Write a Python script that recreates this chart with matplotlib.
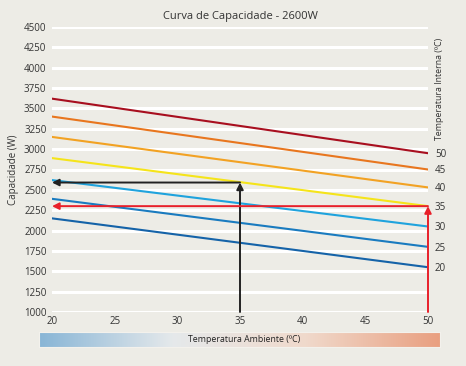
import numpy as np
import matplotlib
matplotlib.use("Agg")
import matplotlib.pyplot as plt
from matplotlib.colors import LinearSegmentedColormap

plt.rcParams['font.family'] = ['Open Sans', 'DejaVu Sans']

# ambient temperature (x) and capacity curves for each internal temperature
amb = [20, 50]
internal = [50, 45, 40, 35, 30, 25, 20]
curves = [
    [3620, 2950],
    [3400, 2750],
    [3150, 2530],
    [2890, 2300],
    [2620, 2050],
    [2390, 1800],
    [2150, 1550],
]
colors = ['#a80f1f', '#e8761e', '#f2a223', '#f5e41a', '#1fa3dd', '#1a7bbf', '#1563a8']

# example readings
black_x, black_y = 35, 2590
red_x, red_y = 50, 2300

bg = '#edece6'
txt = '#333333'

fig = plt.figure(figsize=(4.66, 3.66), dpi=100, facecolor=bg)
ax = fig.add_axes([52/466, 1-312/366, 376/466, 285/366])
ax.set_facecolor(bg)

ax.set_xlim(20, 50)
ax.set_ylim(1000, 4500)
yt = np.arange(1000, 4501, 250)
ax.set_yticks(yt)
ax.set_xticks([20, 25, 30, 35, 40, 45, 50])
for v in yt:
    ax.axhline(v, color='white', lw=2.2, zorder=1)
for s in ax.spines.values():
    s.set_visible(False)
ax.tick_params(length=0, labelsize=7, colors=txt, pad=3)
ax.tick_params(axis='y', pad=4)

for c, col in zip(curves, colors):
    ax.plot(amb, c, color=col, lw=1.5, zorder=3)

arrow = dict(arrowstyle='-|>', lw=1.4, mutation_scale=10, shrinkA=0, shrinkB=0)
# black reading
ax.annotate('', xy=(black_x, black_y), xytext=(black_x, 1000),
            arrowprops=dict(arrow, color='#222222'), zorder=4)
ax.annotate('', xy=(20, black_y), xytext=(black_x, black_y),
            arrowprops=dict(arrow, color='#222222'), zorder=4)
# red reading
ax.annotate('', xy=(red_x, red_y), xytext=(red_x, 1000),
            arrowprops=dict(arrow, color='#e8202a'), zorder=4)
ax.annotate('', xy=(20, red_y), xytext=(red_x, red_y),
            arrowprops=dict(arrow, color='#e8202a'), zorder=4)

ax.set_ylabel('Capacidade (W)', fontsize=7, color=txt)
ax.yaxis.set_label_coords(-0.088, 0.5)
ax.set_title('Curva de Capacidade - 2600W', fontsize=8, color=txt, pad=6)

ax2 = ax.twinx()
ax2.set_ylim(ax.get_ylim())
ax2.set_yticks([c[1] for c in curves])
ax2.set_yticklabels([str(t) for t in internal])
for s in ax2.spines.values():
    s.set_visible(False)
ax2.tick_params(length=0, labelsize=7, colors=txt, pad=5)
fig.text(439/466, 1-89/366, 'Temperatura Interna (ºC)', rotation=90,
         fontsize=6.3, color=txt, ha='center', va='center')

# ambient temperature gradient bar
cax = fig.add_axes([39/466, 1-347/366, 401/466, 15/366])
cmap = LinearSegmentedColormap.from_list('amb', ['#88b5d6', '#e5e9eb', '#f0d9cb', '#e99f80'])
cax.imshow(np.linspace(0, 1, 256)[None, :], aspect='auto', cmap=cmap,
           extent=[0, 1, 0, 1])
cax.set_xticks([])
cax.set_yticks([])
for s in cax.spines.values():
    s.set_color('#f3f1ec')
    s.set_linewidth(0.8)
cax.text(0.512, 0.5, 'Temperatura Ambiente (ºC)', transform=cax.transAxes,
         ha='center', va='center', fontsize=6.3, color='#222222')

fig.savefig('out.png', dpi=100, facecolor=bg)
